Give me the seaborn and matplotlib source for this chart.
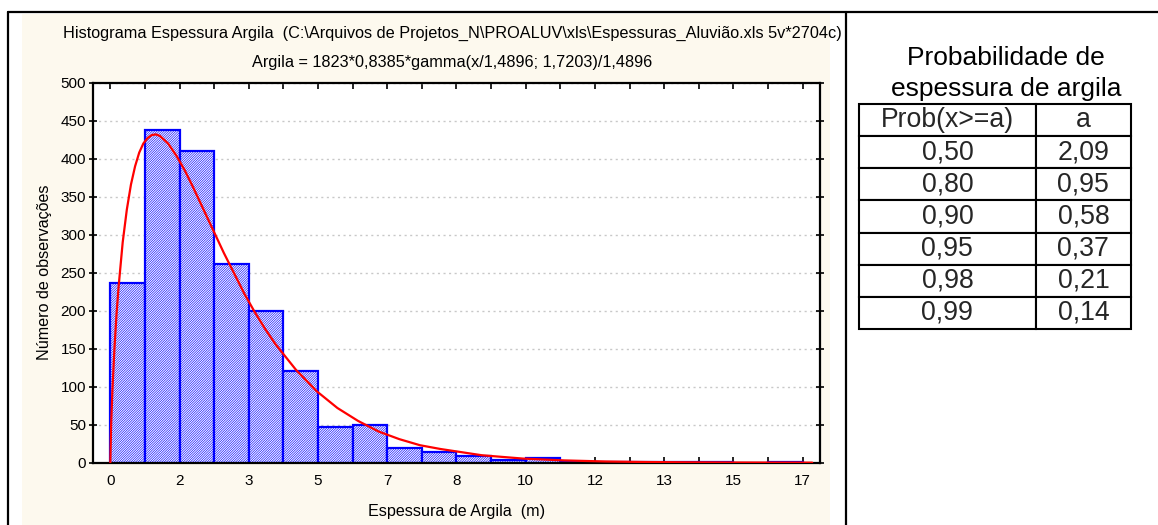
import numpy as np
import pandas as pd
import matplotlib
matplotlib.use("Agg")
import matplotlib.pyplot as plt
from matplotlib.patches import Rectangle
from matplotlib.lines import Line2D
import seaborn as sns

# histogram (bins of 0,8385 m starting at 0)
bin_width = 0.8385
counts = [237, 438, 410, 261, 199, 121, 47, 49, 20, 14, 9, 3, 6, 1, 1, 1, 1, 1, 0, 1]

# fitted gamma curve
curve_x = [0, 0.02, 0.05, 0.1, 0.15, 0.2, 0.3, 0.4, 0.5, 0.6, 0.7, 0.8, 0.9, 1.0, 1.1,
           1.2, 1.4, 1.6, 1.8, 2.0, 2.25, 2.5, 2.75, 3.0, 3.25, 3.5, 3.75, 4.0, 4.5,
           5.0, 5.5, 6.0, 6.5, 7.0, 7.5, 8.0, 9.0, 10.0, 11.0, 12.0, 13.0, 14.0,
           15.0, 16.0, 17.0]
curve_y = [0, 50, 94, 150, 195, 231, 290, 333, 366, 390, 408, 420, 427, 431, 432,
           430, 420, 404, 385, 363, 334, 305, 276, 249, 222, 198, 176, 156, 122,
           94, 72, 55, 41, 31, 23, 18, 9.8, 5.4, 3.0, 1.6, 0.9, 0.5,
           0.25, 0.13, 0.07]

x_tick_labels = ['0', '2', '3', '5', '7', '8', '10', '12', '13', '15', '17']
y_ticks = [0, 50, 100, 150, 200, 250, 300, 350, 400, 450, 500]

# probability table
prob = ['0,50', '0,80', '0,90', '0,95', '0,98', '0,99']
a_vals = ['2,09', '0,95', '0,58', '0,37', '0,21', '0,14']

sns.set_theme(style="ticks")
plt.rcParams['font.family'] = ['Liberation Sans', 'DejaVu Sans']
plt.rcParams['hatch.linewidth'] = 0.45

W, H = 1158, 525
fig = plt.figure(figsize=(W / 100, H / 100), dpi=100)
fig.patch.set_facecolor('white')

# cream panel + frame lines
fig.add_artist(Rectangle((22 / W, 0), (830 - 22) / W, (H - 14) / H,
                         transform=fig.transFigure, facecolor='#fdf9ee', edgecolor='none', zorder=0))
fig.add_artist(Line2D([8 / W, 1], [1 - 12 / H, 1 - 12 / H], transform=fig.transFigure, color='black', lw=1.6))
fig.add_artist(Line2D([8 / W, 8 / W], [0, 1 - 12 / H], transform=fig.transFigure, color='black', lw=1.6))
fig.add_artist(Line2D([846 / W, 846 / W], [0, 1 - 12 / H], transform=fig.transFigure, color='black', lw=1.6))

ax = fig.add_axes([93 / W, (H - 462.7) / H, (820 - 93) / W, (462.7 - 82.7) / H])
ax.set_facecolor('white')

df = pd.DataFrame({'centro': (np.arange(len(counts)) + 0.5) * bin_width, 'n': counts})
sns.histplot(data=df, x='centro', weights='n', binwidth=bin_width,
             binrange=(0, len(counts) * bin_width), stat='count', ax=ax,
             facecolor='white', edgecolor='#0000ff', linewidth=1.6,
             hatch='/' * 14, alpha=1, zorder=2)

sns.lineplot(x=curve_x, y=curve_y, ax=ax, color='#ff0000', linewidth=1.6, zorder=3)

ax.set_xlim(-bin_width / 2, (len(counts) + 0.5) * bin_width)
ax.set_ylim(0, 500)
ax.set_xticks(np.arange(len(x_tick_labels)) * 2 * bin_width)
ax.set_xticklabels(x_tick_labels)
ax.set_xticks(np.arange(len(counts) + 1) * bin_width, minor=True)
ax.set_yticks(y_ticks)

ax.yaxis.grid(True, linestyle=(0, (1.5, 2.5)), color='#c8c8c8', linewidth=1.0)
ax.set_axisbelow(True)

for s in ax.spines.values():
    s.set_visible(True)
    s.set_color('black')
    s.set_linewidth(1.6)

ax.tick_params(axis='x', which='both', direction='in', length=4, width=1.2, top=True,
               labelsize=11, pad=8, colors='black')
ax.tick_params(axis='y', which='both', direction='inout', length=6, width=1.2, right=True,
               labelsize=11, pad=2, colors='black')

ax.set_xlabel('Espessura de Argila  (m)', fontsize=11.6, color='black')
ax.xaxis.set_label_coords(0.5, -0.108)
ax.set_ylabel('Número de observações', fontsize=11.6, color='black')
ax.yaxis.set_label_coords(-0.056, 0.5)

fig.text(452 / W, 1 - 33 / H,
         'Histograma Espessura Argila  (C:\\Arquivos de Projetos_N\\PROALUV\\xls\\Espessuras_Aluvião.xls 5v*2704c)',
         ha='center', va='center', fontsize=11.7, color='black')
fig.text(452 / W, 1 - 62 / H, 'Argila = 1823*0,8385*gamma(x/1,4896; 1,7203)/1,4896',
         ha='center', va='center', fontsize=11.7, color='black')

# table panel
fig.text(1006 / W, 1 - 58 / H, 'Probabilidade de', ha='center', va='center', fontsize=19, color='black')
fig.text(1006 / W, 1 - 89 / H, 'espessura de argila', ha='center', va='center', fontsize=19, color='black')

tax = fig.add_axes([859 / W, (H - 329) / H, (1131 - 859) / W, (329 - 104) / H])
tax.axis('off')
tbl = tax.table(cellText=[[p, a] for p, a in zip(prob, a_vals)],
                colLabels=['Prob(x>=a)', 'a'], cellLoc='center',
                colWidths=[0.65, 0.35], bbox=[0, 0, 1, 1])
tbl.auto_set_font_size(False)
tbl.set_fontsize(19.2)
for cell in tbl.get_celld().values():
    cell.set_linewidth(1.5)
    cell.set_edgecolor('black')
    cell.set_facecolor('white')

fig.savefig('out.png', dpi=100, facecolor=fig.get_facecolor())
